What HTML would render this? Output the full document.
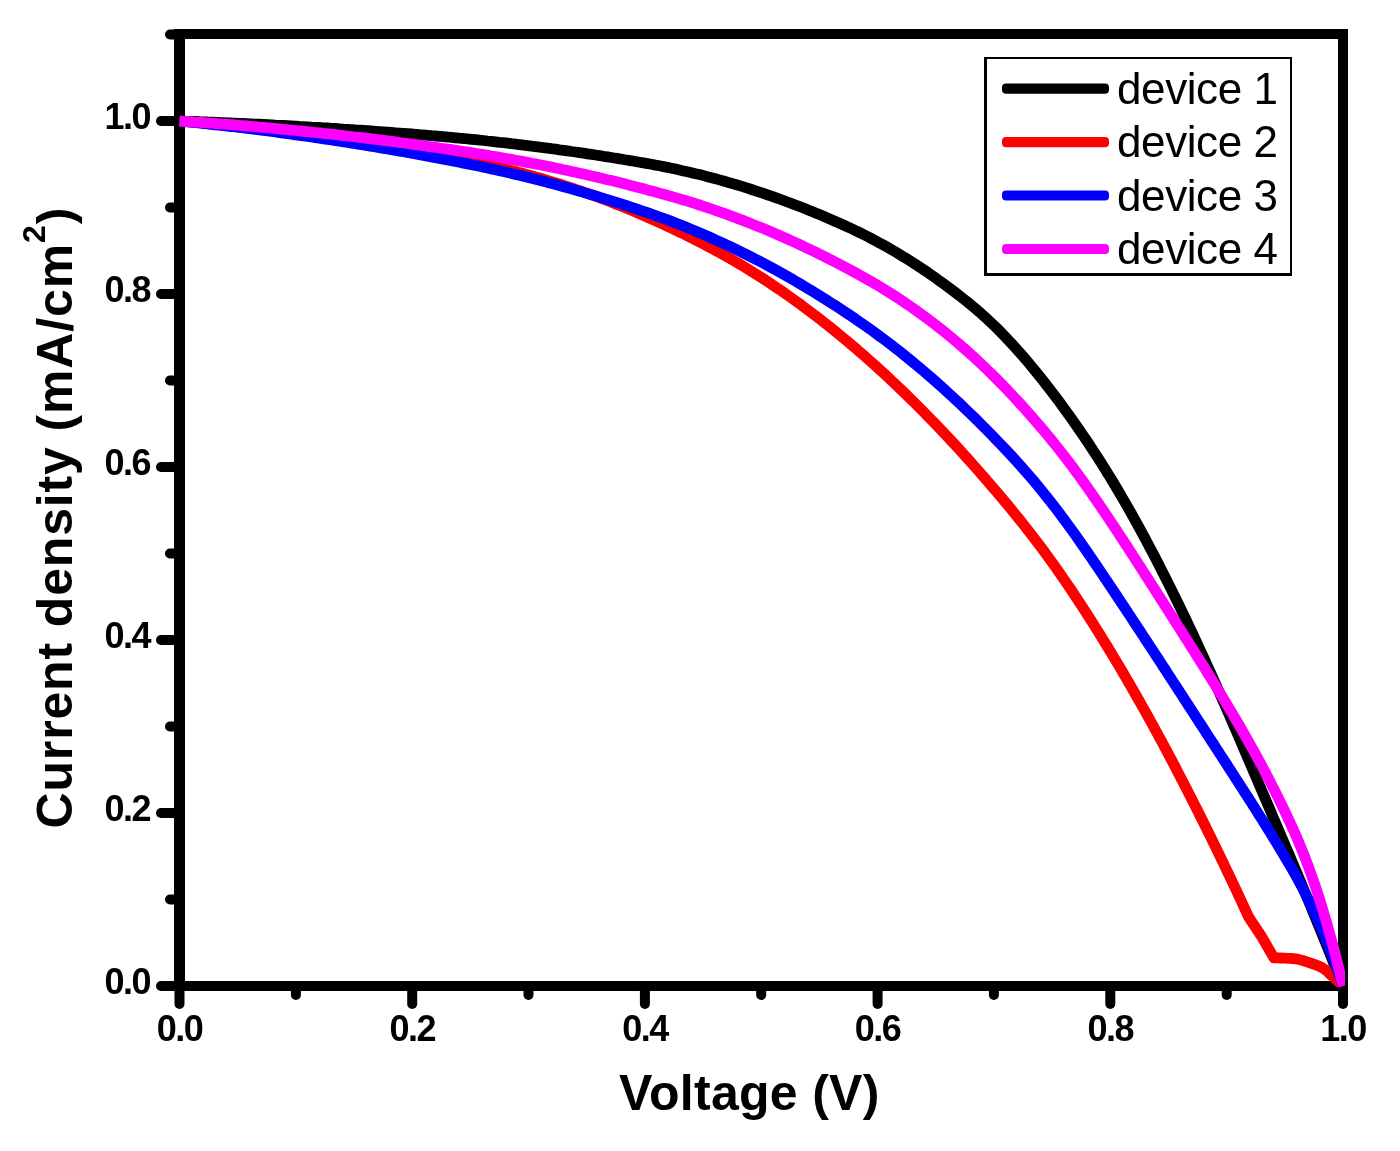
<!DOCTYPE html>
<html lang="en"><head><meta charset="utf-8"><title>J-V curves</title>
<style>
html,body{margin:0;padding:0;background:#fff;}
body{width:1400px;height:1151px;overflow:hidden;}
svg{display:block;}
text{font-family:"Liberation Sans",sans-serif;fill:#000;}
.tk{font-size:36px;font-weight:bold;letter-spacing:-1.5px;}
.ax{font-size:50px;font-weight:bold;}
.ay{letter-spacing:0.85px;}
.axx{letter-spacing:0.3px;}
.lg{font-size:44px;letter-spacing:-0.4px;}
</style></head><body>
<svg width="1400" height="1151" viewBox="0 0 1400 1151">
<rect x="0" y="0" width="1400" height="1151" fill="#ffffff"/>
<defs><clipPath id="plot"><rect x="179" y="34.0" width="1166" height="953.0"/></clipPath></defs>
<g stroke="#000" stroke-width="10" stroke-linecap="butt" fill="none" shape-rendering="crispEdges">
<rect x="174" y="29.0" width="11" height="962.0" fill="#000" stroke="none"/>
<line x1="1343.0" y1="29.0" x2="1343.0" y2="991.0"/>
<line x1="174.5" y1="34.0" x2="1348.0" y2="34.0"/>
<line x1="174.5" y1="986.0" x2="1348.0" y2="986.0"/>
</g>
<g stroke="#000" stroke-width="10" stroke-linecap="round" fill="none">
<line x1="179.5" y1="986.0" x2="161" y2="986.0"/>
<line x1="179.5" y1="899.5" x2="170" y2="899.5"/>
<line x1="179.5" y1="813.0" x2="161" y2="813.0"/>
<line x1="179.5" y1="726.5" x2="170" y2="726.5"/>
<line x1="179.5" y1="640.0" x2="161" y2="640.0"/>
<line x1="179.5" y1="553.5" x2="170" y2="553.5"/>
<line x1="179.5" y1="467.0" x2="161" y2="467.0"/>
<line x1="179.5" y1="380.5" x2="170" y2="380.5"/>
<line x1="179.5" y1="294.0" x2="161" y2="294.0"/>
<line x1="179.5" y1="207.5" x2="170" y2="207.5"/>
<line x1="179.5" y1="121.0" x2="161" y2="121.0"/>
<line x1="179.5" y1="34.5" x2="170" y2="34.5"/>
<line x1="179.5" y1="986.0" x2="179.5" y2="1004"/>
<line x1="295.9" y1="986.0" x2="295.9" y2="995"/>
<line x1="412.2" y1="986.0" x2="412.2" y2="1004"/>
<line x1="528.5" y1="986.0" x2="528.5" y2="995"/>
<line x1="644.9" y1="986.0" x2="644.9" y2="1004"/>
<line x1="761.2" y1="986.0" x2="761.2" y2="995"/>
<line x1="877.6" y1="986.0" x2="877.6" y2="1004"/>
<line x1="993.9" y1="986.0" x2="993.9" y2="995"/>
<line x1="1110.3" y1="986.0" x2="1110.3" y2="1004"/>
<line x1="1226.7" y1="986.0" x2="1226.7" y2="995"/>
<line x1="1343.0" y1="986.0" x2="1343.0" y2="1004"/>
</g>
<g clip-path="url(#plot)" fill="none" stroke-width="10.8" stroke-linejoin="round" stroke-linecap="butt">
<path d="M179.5,121.0 L183.5,121.1 L187.5,121.3 L191.5,121.4 L195.5,121.5 L199.5,121.7 L203.5,121.8 L207.5,122.0 L211.5,122.1 L215.5,122.3 L219.5,122.5 L223.5,122.6 L227.5,122.8 L231.5,123.0 L235.5,123.1 L239.5,123.3 L243.5,123.5 L247.5,123.7 L251.5,123.9 L255.5,124.1 L259.5,124.2 L263.5,124.4 L267.5,124.6 L271.5,124.8 L275.5,125.1 L279.5,125.3 L283.5,125.5 L287.5,125.7 L291.5,125.9 L295.5,126.1 L299.5,126.4 L303.5,126.6 L307.5,126.8 L311.5,127.1 L315.5,127.3 L319.5,127.5 L323.5,127.8 L327.5,128.0 L331.5,128.3 L335.5,128.5 L339.5,128.8 L343.5,129.1 L347.5,129.3 L351.5,129.6 L355.5,129.9 L359.5,130.1 L363.5,130.4 L367.5,130.7 L371.5,131.0 L375.5,131.3 L379.5,131.6 L383.5,131.9 L387.5,132.2 L391.5,132.5 L395.5,132.8 L399.5,133.1 L403.5,133.4 L407.5,133.7 L411.5,134.0 L415.5,134.3 L419.5,134.7 L423.5,135.0 L427.5,135.3 L431.5,135.7 L435.5,136.0 L439.5,136.3 L443.5,136.7 L447.5,137.0 L451.5,137.4 L455.5,137.8 L459.5,138.2 L463.5,138.5 L467.5,138.9 L471.5,139.3 L475.5,139.7 L479.5,140.1 L483.5,140.5 L487.5,141.0 L491.5,141.4 L495.5,141.8 L499.5,142.3 L503.5,142.7 L507.5,143.2 L511.5,143.7 L515.5,144.1 L519.5,144.6 L523.5,145.1 L527.5,145.6 L531.5,146.1 L535.5,146.6 L539.5,147.1 L543.5,147.6 L547.5,148.1 L551.5,148.7 L555.5,149.2 L559.5,149.8 L563.5,150.3 L567.5,150.9 L571.5,151.5 L575.5,152.0 L579.5,152.6 L583.5,153.2 L587.5,153.8 L591.5,154.4 L595.5,155.0 L599.5,155.6 L603.5,156.3 L607.5,156.9 L611.5,157.5 L615.5,158.2 L619.5,158.8 L623.5,159.5 L627.5,160.2 L631.5,160.8 L635.5,161.5 L639.5,162.2 L643.5,162.9 L647.5,163.6 L651.5,164.3 L655.5,165.1 L659.5,165.8 L663.5,166.6 L667.5,167.4 L671.5,168.2 L675.5,169.1 L679.5,170.0 L683.5,170.9 L687.5,171.8 L691.5,172.7 L695.5,173.7 L699.5,174.6 L703.5,175.6 L707.5,176.7 L711.5,177.7 L715.5,178.8 L719.5,179.9 L723.5,181.0 L727.5,182.2 L731.5,183.3 L735.5,184.5 L739.5,185.7 L743.5,186.9 L747.5,188.2 L751.5,189.5 L755.5,190.8 L759.5,192.1 L763.5,193.4 L767.5,194.8 L771.5,196.2 L775.5,197.6 L779.5,199.0 L783.5,200.5 L787.5,202.0 L791.5,203.5 L795.5,205.0 L799.5,206.5 L803.5,208.1 L807.5,209.7 L811.5,211.3 L815.5,213.0 L819.5,214.6 L823.5,216.3 L827.5,218.0 L831.5,219.7 L835.5,221.5 L839.5,223.2 L843.5,225.0 L847.5,226.9 L851.5,228.7 L855.5,230.6 L859.5,232.5 L863.5,234.5 L867.5,236.5 L871.5,238.6 L875.5,240.7 L879.5,242.9 L883.5,245.1 L887.5,247.3 L891.5,249.6 L895.5,251.9 L899.5,254.3 L903.5,256.8 L907.5,259.2 L911.5,261.8 L915.5,264.3 L919.5,267.0 L923.5,269.6 L927.5,272.3 L931.5,275.1 L935.5,277.9 L939.5,280.8 L943.5,283.7 L947.5,286.6 L951.5,289.6 L955.5,292.6 L959.5,295.7 L963.5,298.9 L967.5,302.0 L971.5,305.3 L975.5,308.7 L979.5,312.1 L983.5,315.7 L987.5,319.3 L991.5,323.1 L995.5,326.9 L999.5,330.9 L1003.5,335.0 L1007.5,339.2 L1011.5,343.5 L1015.5,347.9 L1019.5,352.4 L1023.5,356.9 L1027.5,361.6 L1031.5,366.4 L1035.5,371.2 L1039.5,376.2 L1043.5,381.2 L1047.5,386.3 L1051.5,391.5 L1055.5,396.8 L1059.5,402.1 L1063.5,407.6 L1067.5,413.1 L1071.5,418.7 L1075.5,424.4 L1079.5,430.1 L1083.5,436.0 L1087.5,441.9 L1091.5,447.9 L1095.5,454.1 L1099.5,460.3 L1100.0,461.1 L1101.5,463.4 L1103.0,465.8 L1104.5,468.2 L1106.0,470.6 L1107.5,473.1 L1109.0,475.5 L1110.5,477.9 L1112.0,480.4 L1113.5,482.9 L1115.0,485.4 L1116.5,487.9 L1118.0,490.4 L1119.5,493.0 L1121.0,495.5 L1122.5,498.1 L1124.0,500.7 L1125.5,503.3 L1127.0,505.9 L1128.5,508.5 L1130.0,511.2 L1131.5,513.8 L1133.0,516.5 L1134.5,519.2 L1136.0,521.9 L1137.5,524.6 L1139.0,527.4 L1140.5,530.1 L1142.0,532.9 L1143.5,535.6 L1145.0,538.4 L1146.5,541.2 L1148.0,544.0 L1149.5,546.9 L1151.0,549.7 L1152.5,552.6 L1154.0,555.4 L1155.5,558.3 L1157.0,561.2 L1158.5,564.1 L1160.0,567.1 L1161.5,570.0 L1163.0,572.9 L1164.5,575.9 L1166.0,578.9 L1167.5,581.9 L1169.0,584.9 L1170.5,587.9 L1172.0,590.9 L1173.5,594.0 L1175.0,597.0 L1176.5,600.1 L1178.0,603.2 L1179.5,606.2 L1181.0,609.3 L1182.5,612.5 L1184.0,615.6 L1185.5,618.7 L1187.0,621.9 L1188.5,625.0 L1190.0,628.2 L1191.5,631.4 L1193.0,634.6 L1194.5,637.8 L1196.0,641.0 L1197.5,644.3 L1199.0,647.5 L1200.5,650.8 L1202.0,654.0 L1203.5,657.3 L1205.0,660.6 L1206.5,663.9 L1208.0,667.2 L1209.5,670.5 L1211.0,673.8 L1212.5,677.1 L1214.0,680.5 L1215.5,683.8 L1217.0,687.2 L1218.5,690.6 L1220.0,694.0 L1221.5,697.3 L1223.0,700.7 L1224.5,704.2 L1226.0,707.6 L1227.5,711.0 L1229.0,714.4 L1230.5,717.8 L1232.0,721.3 L1233.5,724.7 L1235.0,728.2 L1236.5,731.7 L1238.0,735.1 L1239.5,738.6 L1241.0,742.1 L1242.5,745.6 L1244.0,749.0 L1245.5,752.5 L1247.0,756.0 L1248.5,759.5 L1250.0,763.0 L1251.5,766.5 L1253.0,770.0 L1254.5,773.5 L1256.0,777.1 L1257.5,780.6 L1259.0,784.1 L1260.5,787.6 L1262.0,791.1 L1263.5,794.6 L1265.0,798.2 L1266.5,801.7 L1268.0,805.2 L1269.5,808.7 L1271.0,812.2 L1272.5,815.8 L1274.0,819.3 L1275.5,822.8 L1277.0,826.3 L1278.5,829.9 L1280.0,833.4 L1281.5,836.9 L1283.0,840.4 L1284.5,843.9 L1286.0,847.5 L1287.5,851.0 L1289.0,854.5 L1290.5,858.0 L1292.0,861.6 L1293.5,865.1 L1295.0,868.6 L1296.5,872.2 L1298.0,875.7 L1299.5,879.3 L1301.0,882.9 L1302.5,886.5 L1304.0,890.1 L1305.5,893.7 L1307.0,897.3 L1308.5,900.9 L1310.0,904.5 L1311.5,908.2 L1313.0,911.8 L1314.5,915.5 L1316.0,919.2 L1317.5,922.9 L1319.0,926.5 L1320.5,930.2 L1322.0,933.9 L1323.5,937.6 L1325.0,941.3 L1326.5,945.1 L1328.0,948.8 L1329.5,952.5 L1331.0,956.2 L1332.5,959.9 L1334.0,963.6 L1335.5,967.4 L1337.0,971.1 L1338.5,974.8 L1340.0,978.5 L1341.5,982.3 L1343.0,986.0" stroke="#000000"/>
<path d="M179.5,121.0 L183.5,121.4 L187.5,121.7 L191.5,122.1 L195.5,122.5 L199.5,122.9 L203.5,123.3 L207.5,123.7 L211.5,124.1 L215.5,124.5 L219.5,124.9 L223.5,125.3 L227.5,125.7 L231.5,126.1 L235.5,126.6 L239.5,127.0 L243.5,127.5 L247.5,127.9 L251.5,128.4 L255.5,128.8 L259.5,129.3 L263.5,129.8 L267.5,130.2 L271.5,130.7 L275.5,131.2 L279.5,131.7 L283.5,132.2 L287.5,132.7 L291.5,133.2 L295.5,133.7 L299.5,134.2 L303.5,134.8 L307.5,135.3 L311.5,135.8 L315.5,136.4 L319.5,136.9 L323.5,137.5 L327.5,138.0 L331.5,138.6 L335.5,139.2 L339.5,139.7 L343.5,140.3 L347.5,140.9 L351.5,141.5 L355.5,142.1 L359.5,142.7 L363.5,143.3 L367.5,143.9 L371.5,144.5 L375.5,145.2 L379.5,145.8 L383.5,146.4 L387.5,147.1 L391.5,147.7 L395.5,148.3 L399.5,149.0 L403.5,149.7 L407.5,150.3 L411.5,151.0 L415.5,151.7 L419.5,152.4 L423.5,153.0 L427.5,153.7 L431.5,154.4 L435.5,155.1 L439.5,155.9 L443.5,156.6 L447.5,157.3 L451.5,158.0 L455.5,158.7 L459.5,159.5 L463.5,160.2 L467.5,161.0 L471.5,161.7 L475.5,162.5 L479.5,163.3 L483.5,164.1 L487.5,165.0 L491.5,165.9 L495.5,166.7 L499.5,167.7 L503.5,168.6 L507.5,169.5 L511.5,170.5 L515.5,171.5 L519.5,172.6 L523.5,173.6 L527.5,174.7 L531.5,175.8 L535.5,176.9 L539.5,178.0 L543.5,179.2 L547.5,180.4 L551.5,181.6 L555.5,182.8 L559.5,184.0 L563.5,185.3 L567.5,186.6 L571.5,187.9 L575.5,189.3 L579.5,190.6 L583.5,192.0 L587.5,193.4 L591.5,194.8 L595.5,196.3 L599.5,197.8 L603.5,199.3 L607.5,200.8 L611.5,202.3 L615.5,203.9 L619.5,205.5 L623.5,207.1 L627.5,208.7 L631.5,210.4 L635.5,212.1 L639.5,213.8 L643.5,215.5 L647.5,217.2 L651.5,219.0 L655.5,220.8 L659.5,222.6 L663.5,224.4 L667.5,226.3 L671.5,228.2 L675.5,230.1 L679.5,232.0 L683.5,233.9 L687.5,235.9 L691.5,237.9 L695.5,239.9 L699.5,242.0 L703.5,244.0 L707.5,246.1 L711.5,248.2 L715.5,250.4 L719.5,252.5 L723.5,254.8 L727.5,257.0 L731.5,259.3 L735.5,261.6 L739.5,264.0 L743.5,266.4 L747.5,268.8 L751.5,271.3 L755.5,273.8 L759.5,276.3 L763.5,278.9 L767.5,281.5 L771.5,284.2 L775.5,286.9 L779.5,289.6 L783.5,292.3 L787.5,295.1 L791.5,298.0 L795.5,300.8 L799.5,303.7 L803.5,306.7 L807.5,309.7 L811.5,312.7 L815.5,315.7 L819.5,318.8 L823.5,321.9 L827.5,325.1 L831.5,328.3 L835.5,331.5 L839.5,334.8 L843.5,338.1 L847.5,341.4 L851.5,344.8 L855.5,348.2 L859.5,351.7 L863.5,355.1 L867.5,358.7 L871.5,362.2 L875.5,365.8 L879.5,369.5 L883.5,373.1 L887.5,376.8 L891.5,380.6 L895.5,384.3 L899.5,388.2 L903.5,392.0 L907.5,395.9 L911.5,399.8 L915.5,403.8 L919.5,407.8 L923.5,411.8 L927.5,415.9 L931.5,420.0 L935.5,424.1 L939.5,428.3 L943.5,432.5 L947.5,436.7 L951.5,441.0 L955.5,445.3 L959.5,449.7 L963.5,454.1 L967.5,458.5 L971.5,463.0 L975.5,467.5 L979.5,472.0 L983.5,476.6 L987.5,481.2 L991.5,485.9 L995.5,490.5 L999.5,495.3 L1003.5,500.0 L1007.5,504.8 L1011.5,509.7 L1015.5,514.6 L1019.5,519.5 L1023.5,524.5 L1027.5,529.6 L1031.5,534.8 L1035.5,540.0 L1039.5,545.3 L1043.5,550.6 L1047.5,556.1 L1051.5,561.6 L1055.5,567.2 L1059.5,572.9 L1063.5,578.7 L1067.5,584.5 L1071.5,590.4 L1075.5,596.4 L1079.5,602.5 L1083.5,608.6 L1087.5,614.8 L1091.5,621.1 L1095.5,627.5 L1099.5,633.9 L1100.0,634.7 L1101.5,637.1 L1103.0,639.5 L1104.5,642.0 L1106.0,644.4 L1107.5,646.9 L1109.0,649.3 L1110.5,651.8 L1112.0,654.3 L1113.5,656.8 L1115.0,659.3 L1116.5,661.8 L1118.0,664.3 L1119.5,666.8 L1121.0,669.4 L1122.5,671.9 L1124.0,674.5 L1125.5,677.0 L1127.0,679.6 L1128.5,682.2 L1130.0,684.8 L1131.5,687.4 L1133.0,690.0 L1134.5,692.6 L1136.0,695.2 L1137.5,697.9 L1139.0,700.5 L1140.5,703.1 L1142.0,705.8 L1143.5,708.5 L1145.0,711.2 L1146.5,713.9 L1148.0,716.5 L1149.5,719.3 L1151.0,722.0 L1152.5,724.7 L1154.0,727.4 L1155.5,730.2 L1157.0,732.9 L1158.5,735.7 L1160.0,738.5 L1161.5,741.2 L1163.0,744.0 L1164.5,746.8 L1166.0,749.6 L1167.5,752.4 L1169.0,755.3 L1170.5,758.1 L1172.0,760.9 L1173.5,763.8 L1175.0,766.6 L1176.5,769.5 L1178.0,772.4 L1179.5,775.3 L1181.0,778.2 L1182.5,781.1 L1184.0,784.0 L1185.5,786.9 L1187.0,789.8 L1188.5,792.8 L1190.0,795.7 L1191.5,798.6 L1193.0,801.6 L1194.5,804.6 L1196.0,807.5 L1197.5,810.5 L1199.0,813.5 L1200.5,816.5 L1202.0,819.5 L1203.5,822.5 L1205.0,825.5 L1206.5,828.6 L1208.0,831.6 L1209.5,834.6 L1211.0,837.7 L1212.5,840.8 L1214.0,843.8 L1215.5,846.9 L1217.0,850.0 L1218.5,853.1 L1220.0,856.2 L1221.5,859.3 L1223.0,862.4 L1224.5,865.5 L1226.0,868.7 L1227.5,871.8 L1229.0,875.0 L1230.5,878.1 L1232.0,881.3 L1233.5,884.5 L1235.0,887.6 L1236.5,890.8 L1238.0,894.1 L1239.5,897.3 L1241.0,900.5 L1242.5,903.7 L1244.0,907.0 L1245.5,910.2 L1247.0,913.5 L1248.5,916.8 L1248.6,917.0 L1261.9,937.1 L1273.9,957.9 L1275.4,957.9 L1276.9,957.9 L1278.4,957.9 L1279.9,958.0 L1281.4,958.0 L1282.9,958.1 L1284.4,958.1 L1285.9,958.2 L1287.4,958.3 L1288.9,958.4 L1290.4,958.4 L1291.9,958.5 L1293.4,958.6 L1294.9,958.8 L1296.4,958.9 L1297.9,959.2 L1299.4,959.6 L1300.9,960.0 L1302.4,960.4 L1303.9,960.9 L1305.4,961.4 L1306.9,961.9 L1308.4,962.3 L1309.9,962.8 L1311.4,963.3 L1312.9,963.8 L1314.4,964.3 L1315.9,964.9 L1317.4,965.5 L1318.9,966.1 L1320.4,966.8 L1321.9,967.6 L1323.4,968.4 L1324.9,969.4 L1326.4,970.7 L1327.9,972.0 L1329.4,973.5 L1330.9,974.9 L1332.4,976.2 L1333.9,977.5 L1335.4,978.9 L1336.9,980.3 L1338.4,981.6 L1339.9,983.0 L1341.4,984.5 L1342.9,985.9 L1343.0,986.0" stroke="#ff0000"/>
<path d="M179.5,121.0 L183.5,121.4 L187.5,121.8 L191.5,122.2 L195.5,122.6 L199.5,123.0 L203.5,123.5 L207.5,123.9 L211.5,124.3 L215.5,124.8 L219.5,125.2 L223.5,125.7 L227.5,126.1 L231.5,126.6 L235.5,127.0 L239.5,127.5 L243.5,128.0 L247.5,128.5 L251.5,129.0 L255.5,129.5 L259.5,130.0 L263.5,130.5 L267.5,131.0 L271.5,131.5 L275.5,132.0 L279.5,132.6 L283.5,133.1 L287.5,133.7 L291.5,134.2 L295.5,134.8 L299.5,135.3 L303.5,135.9 L307.5,136.4 L311.5,137.0 L315.5,137.6 L319.5,138.2 L323.5,138.8 L327.5,139.4 L331.5,140.0 L335.5,140.6 L339.5,141.2 L343.5,141.8 L347.5,142.5 L351.5,143.1 L355.5,143.7 L359.5,144.4 L363.5,145.0 L367.5,145.7 L371.5,146.3 L375.5,147.0 L379.5,147.7 L383.5,148.4 L387.5,149.0 L391.5,149.7 L395.5,150.4 L399.5,151.1 L403.5,151.8 L407.5,152.5 L411.5,153.3 L415.5,154.0 L419.5,154.7 L423.5,155.4 L427.5,156.2 L431.5,156.9 L435.5,157.7 L439.5,158.4 L443.5,159.2 L447.5,160.0 L451.5,160.7 L455.5,161.5 L459.5,162.3 L463.5,163.1 L467.5,163.9 L471.5,164.7 L475.5,165.5 L479.5,166.3 L483.5,167.2 L487.5,168.0 L491.5,168.9 L495.5,169.8 L499.5,170.7 L503.5,171.6 L507.5,172.5 L511.5,173.4 L515.5,174.4 L519.5,175.3 L523.5,176.3 L527.5,177.3 L531.5,178.3 L535.5,179.3 L539.5,180.3 L543.5,181.3 L547.5,182.4 L551.5,183.4 L555.5,184.5 L559.5,185.6 L563.5,186.7 L567.5,187.8 L571.5,188.9 L575.5,190.1 L579.5,191.2 L583.5,192.4 L587.5,193.6 L591.5,194.7 L595.5,195.9 L599.5,197.2 L603.5,198.4 L607.5,199.6 L611.5,200.9 L615.5,202.1 L619.5,203.4 L623.5,204.7 L627.5,206.0 L631.5,207.3 L635.5,208.7 L639.5,210.0 L643.5,211.4 L647.5,212.7 L651.5,214.1 L655.5,215.5 L659.5,217.0 L663.5,218.4 L667.5,219.9 L671.5,221.4 L675.5,223.0 L679.5,224.5 L683.5,226.1 L687.5,227.7 L691.5,229.4 L695.5,231.0 L699.5,232.7 L703.5,234.4 L707.5,236.2 L711.5,238.0 L715.5,239.8 L719.5,241.6 L723.5,243.4 L727.5,245.3 L731.5,247.2 L735.5,249.1 L739.5,251.1 L743.5,253.1 L747.5,255.1 L751.5,257.1 L755.5,259.2 L759.5,261.2 L763.5,263.3 L767.5,265.5 L771.5,267.6 L775.5,269.8 L779.5,272.0 L783.5,274.3 L787.5,276.5 L791.5,278.8 L795.5,281.1 L799.5,283.5 L803.5,285.9 L807.5,288.3 L811.5,290.7 L815.5,293.1 L819.5,295.6 L823.5,298.1 L827.5,300.6 L831.5,303.2 L835.5,305.7 L839.5,308.3 L843.5,311.0 L847.5,313.6 L851.5,316.3 L855.5,319.0 L859.5,321.8 L863.5,324.5 L867.5,327.4 L871.5,330.2 L875.5,333.1 L879.5,336.1 L883.5,339.0 L887.5,342.0 L891.5,345.1 L895.5,348.2 L899.5,351.3 L903.5,354.5 L907.5,357.7 L911.5,361.0 L915.5,364.3 L919.5,367.6 L923.5,371.0 L927.5,374.5 L931.5,377.9 L935.5,381.4 L939.5,385.0 L943.5,388.6 L947.5,392.2 L951.5,395.9 L955.5,399.6 L959.5,403.3 L963.5,407.1 L967.5,411.0 L971.5,414.8 L975.5,418.7 L979.5,422.7 L983.5,426.7 L987.5,430.7 L991.5,434.8 L995.5,438.9 L999.5,443.1 L1003.5,447.3 L1007.5,451.5 L1011.5,455.8 L1015.5,460.2 L1019.5,464.6 L1023.5,469.1 L1027.5,473.7 L1031.5,478.3 L1035.5,483.0 L1039.5,487.9 L1043.5,492.8 L1047.5,497.8 L1051.5,502.8 L1055.5,508.0 L1059.5,513.3 L1063.5,518.7 L1067.5,524.1 L1071.5,529.6 L1075.5,535.2 L1079.5,540.9 L1083.5,546.6 L1087.5,552.4 L1091.5,558.2 L1095.5,564.1 L1099.5,570.0 L1100.0,570.8 L1101.5,573.0 L1103.0,575.2 L1104.5,577.5 L1106.0,579.7 L1107.5,581.9 L1109.0,584.2 L1110.5,586.4 L1112.0,588.7 L1113.5,590.9 L1115.0,593.2 L1116.5,595.4 L1118.0,597.7 L1119.5,600.0 L1121.0,602.2 L1122.5,604.5 L1124.0,606.8 L1125.5,609.0 L1127.0,611.3 L1128.5,613.6 L1130.0,615.8 L1131.5,618.1 L1133.0,620.4 L1134.5,622.7 L1136.0,625.0 L1137.5,627.2 L1139.0,629.5 L1140.5,631.8 L1142.0,634.1 L1143.5,636.4 L1145.0,638.7 L1146.5,641.0 L1148.0,643.3 L1149.5,645.6 L1151.0,647.8 L1152.5,650.1 L1154.0,652.4 L1155.5,654.7 L1157.0,657.0 L1158.5,659.3 L1160.0,661.6 L1161.5,663.9 L1163.0,666.2 L1164.5,668.5 L1166.0,670.8 L1167.5,673.2 L1169.0,675.5 L1170.5,677.8 L1172.0,680.1 L1173.5,682.4 L1175.0,684.7 L1176.5,687.0 L1178.0,689.3 L1179.5,691.6 L1181.0,693.9 L1182.5,696.2 L1184.0,698.6 L1185.5,700.9 L1187.0,703.2 L1188.5,705.5 L1190.0,707.8 L1191.5,710.1 L1193.0,712.4 L1194.5,714.7 L1196.0,717.1 L1197.5,719.4 L1199.0,721.7 L1200.5,724.0 L1202.0,726.3 L1203.5,728.6 L1205.0,730.9 L1206.5,733.3 L1208.0,735.6 L1209.5,737.9 L1211.0,740.2 L1212.5,742.5 L1214.0,744.8 L1215.5,747.1 L1217.0,749.5 L1218.5,751.8 L1220.0,754.1 L1221.5,756.4 L1223.0,758.7 L1224.5,761.0 L1226.0,763.3 L1227.5,765.7 L1229.0,768.0 L1230.5,770.3 L1232.0,772.6 L1233.5,774.9 L1235.0,777.3 L1236.5,779.6 L1238.0,781.9 L1239.5,784.2 L1241.0,786.6 L1242.5,788.9 L1244.0,791.2 L1245.5,793.6 L1247.0,795.9 L1248.5,798.2 L1250.0,800.6 L1251.5,802.9 L1253.0,805.3 L1254.5,807.6 L1256.0,810.0 L1257.5,812.4 L1259.0,814.8 L1260.5,817.1 L1262.0,819.5 L1263.5,821.9 L1265.0,824.3 L1266.5,826.7 L1268.0,829.1 L1269.5,831.5 L1271.0,834.0 L1272.5,836.4 L1274.0,838.8 L1275.5,841.3 L1277.0,843.7 L1278.5,846.2 L1280.0,848.7 L1281.5,851.2 L1283.0,853.7 L1284.5,856.2 L1286.0,858.7 L1287.5,861.2 L1289.0,863.8 L1290.5,866.3 L1292.0,868.9 L1293.5,871.5 L1295.0,874.2 L1296.5,876.9 L1298.0,879.6 L1299.5,882.4 L1301.0,885.2 L1302.5,888.0 L1304.0,890.9 L1305.5,893.9 L1307.0,896.9 L1308.5,899.9 L1310.0,903.0 L1311.5,906.2 L1313.0,909.4 L1314.5,912.7 L1316.0,916.0 L1317.5,919.4 L1319.0,922.9 L1320.5,926.4 L1322.0,929.9 L1323.5,933.5 L1325.0,937.2 L1326.5,941.0 L1328.0,944.8 L1329.5,948.6 L1331.0,952.6 L1332.5,956.5 L1334.0,960.6 L1335.5,964.7 L1337.0,968.8 L1338.5,973.0 L1340.0,977.3 L1341.5,981.6 L1343.0,986.0" stroke="#0000ff"/>
<path d="M179.5,121.0 L183.5,121.3 L187.5,121.5 L191.5,121.8 L195.5,122.1 L199.5,122.3 L203.5,122.6 L207.5,122.9 L211.5,123.2 L215.5,123.5 L219.5,123.8 L223.5,124.1 L227.5,124.4 L231.5,124.7 L235.5,125.0 L239.5,125.4 L243.5,125.7 L247.5,126.0 L251.5,126.4 L255.5,126.7 L259.5,127.1 L263.5,127.4 L267.5,127.8 L271.5,128.2 L275.5,128.5 L279.5,128.9 L283.5,129.3 L287.5,129.7 L291.5,130.1 L295.5,130.5 L299.5,130.9 L303.5,131.3 L307.5,131.7 L311.5,132.1 L315.5,132.5 L319.5,132.9 L323.5,133.4 L327.5,133.8 L331.5,134.2 L335.5,134.7 L339.5,135.1 L343.5,135.6 L347.5,136.0 L351.5,136.5 L355.5,137.0 L359.5,137.4 L363.5,137.9 L367.5,138.4 L371.5,138.9 L375.5,139.4 L379.5,139.9 L383.5,140.4 L387.5,140.9 L391.5,141.4 L395.5,141.9 L399.5,142.5 L403.5,143.0 L407.5,143.5 L411.5,144.1 L415.5,144.6 L419.5,145.1 L423.5,145.7 L427.5,146.3 L431.5,146.8 L435.5,147.4 L439.5,148.0 L443.5,148.5 L447.5,149.1 L451.5,149.7 L455.5,150.3 L459.5,150.9 L463.5,151.5 L467.5,152.1 L471.5,152.7 L475.5,153.4 L479.5,154.0 L483.5,154.6 L487.5,155.3 L491.5,156.0 L495.5,156.6 L499.5,157.3 L503.5,158.0 L507.5,158.7 L511.5,159.4 L515.5,160.2 L519.5,160.9 L523.5,161.6 L527.5,162.4 L531.5,163.2 L535.5,163.9 L539.5,164.7 L543.5,165.5 L547.5,166.3 L551.5,167.1 L555.5,168.0 L559.5,168.8 L563.5,169.7 L567.5,170.5 L571.5,171.4 L575.5,172.3 L579.5,173.2 L583.5,174.1 L587.5,175.0 L591.5,175.9 L595.5,176.8 L599.5,177.8 L603.5,178.7 L607.5,179.7 L611.5,180.6 L615.5,181.6 L619.5,182.6 L623.5,183.6 L627.5,184.6 L631.5,185.7 L635.5,186.7 L639.5,187.7 L643.5,188.8 L647.5,189.9 L651.5,190.9 L655.5,192.0 L659.5,193.1 L663.5,194.2 L667.5,195.3 L671.5,196.5 L675.5,197.6 L679.5,198.8 L683.5,200.0 L687.5,201.2 L691.5,202.4 L695.5,203.7 L699.5,205.0 L703.5,206.3 L707.5,207.6 L711.5,209.0 L715.5,210.4 L719.5,211.8 L723.5,213.2 L727.5,214.6 L731.5,216.1 L735.5,217.6 L739.5,219.1 L743.5,220.6 L747.5,222.2 L751.5,223.8 L755.5,225.4 L759.5,227.0 L763.5,228.6 L767.5,230.3 L771.5,232.0 L775.5,233.7 L779.5,235.5 L783.5,237.2 L787.5,239.0 L791.5,240.8 L795.5,242.6 L799.5,244.5 L803.5,246.4 L807.5,248.3 L811.5,250.2 L815.5,252.1 L819.5,254.1 L823.5,256.1 L827.5,258.1 L831.5,260.1 L835.5,262.2 L839.5,264.3 L843.5,266.4 L847.5,268.5 L851.5,270.6 L855.5,272.8 L859.5,275.0 L863.5,277.2 L867.5,279.5 L871.5,281.7 L875.5,284.1 L879.5,286.4 L883.5,288.8 L887.5,291.3 L891.5,293.8 L895.5,296.4 L899.5,299.0 L903.5,301.7 L907.5,304.4 L911.5,307.2 L915.5,310.0 L919.5,312.9 L923.5,315.8 L927.5,318.7 L931.5,321.8 L935.5,324.8 L939.5,328.0 L943.5,331.1 L947.5,334.4 L951.5,337.6 L955.5,341.0 L959.5,344.4 L963.5,347.9 L967.5,351.4 L971.5,355.0 L975.5,358.6 L979.5,362.4 L983.5,366.1 L987.5,370.0 L991.5,373.9 L995.5,377.9 L999.5,381.9 L1003.5,386.0 L1007.5,390.1 L1011.5,394.4 L1015.5,398.6 L1019.5,403.0 L1023.5,407.4 L1027.5,411.8 L1031.5,416.4 L1035.5,421.0 L1039.5,425.6 L1043.5,430.3 L1047.5,435.1 L1051.5,440.0 L1055.5,445.0 L1059.5,450.0 L1063.5,455.1 L1067.5,460.3 L1071.5,465.6 L1075.5,471.0 L1079.5,476.4 L1083.5,482.0 L1087.5,487.6 L1091.5,493.3 L1095.5,499.1 L1099.5,504.9 L1100.0,505.7 L1101.5,507.9 L1103.0,510.1 L1104.5,512.3 L1106.0,514.5 L1107.5,516.8 L1109.0,519.0 L1110.5,521.3 L1112.0,523.5 L1113.5,525.8 L1115.0,528.0 L1116.5,530.3 L1118.0,532.6 L1119.5,534.9 L1121.0,537.2 L1122.5,539.4 L1124.0,541.7 L1125.5,544.0 L1127.0,546.3 L1128.5,548.7 L1130.0,551.0 L1131.5,553.3 L1133.0,555.6 L1134.5,557.9 L1136.0,560.2 L1137.5,562.6 L1139.0,564.9 L1140.5,567.2 L1142.0,569.6 L1143.5,571.9 L1145.0,574.2 L1146.5,576.6 L1148.0,578.9 L1149.5,581.3 L1151.0,583.6 L1152.5,586.0 L1154.0,588.3 L1155.5,590.7 L1157.0,593.0 L1158.5,595.4 L1160.0,597.7 L1161.5,600.1 L1163.0,602.4 L1164.5,604.8 L1166.0,607.1 L1167.5,609.5 L1169.0,611.8 L1170.5,614.2 L1172.0,616.5 L1173.5,618.9 L1175.0,621.2 L1176.5,623.6 L1178.0,626.0 L1179.5,628.3 L1181.0,630.7 L1182.5,633.0 L1184.0,635.4 L1185.5,637.8 L1187.0,640.1 L1188.5,642.5 L1190.0,644.9 L1191.5,647.2 L1193.0,649.6 L1194.5,652.0 L1196.0,654.4 L1197.5,656.8 L1199.0,659.2 L1200.5,661.5 L1202.0,663.9 L1203.5,666.3 L1205.0,668.7 L1206.5,671.1 L1208.0,673.6 L1209.5,676.0 L1211.0,678.4 L1212.5,680.8 L1214.0,683.3 L1215.5,685.7 L1217.0,688.1 L1218.5,690.6 L1220.0,693.1 L1221.5,695.5 L1223.0,698.0 L1224.5,700.5 L1226.0,703.0 L1227.5,705.5 L1229.0,708.0 L1230.5,710.5 L1232.0,713.0 L1233.5,715.6 L1235.0,718.1 L1236.5,720.7 L1238.0,723.2 L1239.5,725.8 L1241.0,728.4 L1242.5,731.0 L1244.0,733.6 L1245.5,736.3 L1247.0,738.9 L1248.5,741.6 L1250.0,744.3 L1251.5,747.0 L1253.0,749.7 L1254.5,752.4 L1256.0,755.1 L1257.5,757.9 L1259.0,760.6 L1260.5,763.4 L1262.0,766.2 L1263.5,769.1 L1265.0,771.9 L1266.5,774.8 L1268.0,777.6 L1269.5,780.5 L1271.0,783.5 L1272.5,786.4 L1274.0,789.4 L1275.5,792.3 L1277.0,795.4 L1278.5,798.4 L1280.0,801.4 L1281.5,804.5 L1283.0,807.6 L1284.5,810.7 L1286.0,813.9 L1287.5,817.0 L1289.0,820.3 L1290.5,823.5 L1292.0,826.8 L1293.5,830.1 L1295.0,833.5 L1296.5,836.9 L1298.0,840.4 L1299.5,844.0 L1301.0,847.6 L1302.5,851.3 L1304.0,855.1 L1305.5,858.9 L1307.0,862.9 L1308.5,866.9 L1310.0,871.0 L1311.5,875.2 L1313.0,879.5 L1314.5,883.8 L1316.0,888.3 L1317.5,892.9 L1319.0,897.5 L1320.5,902.3 L1322.0,907.2 L1323.5,912.1 L1325.0,917.2 L1326.5,922.3 L1328.0,927.6 L1329.5,933.0 L1331.0,938.4 L1332.5,944.0 L1334.0,949.7 L1335.5,955.5 L1337.0,961.4 L1338.5,967.4 L1340.0,973.5 L1341.5,979.7 L1343.0,986.0" stroke="#ff00ff"/>
</g>
<text class="tk" x="150" y="994.0" text-anchor="end">0.0</text>
<text class="tk" x="179.5" y="1041" text-anchor="middle">0.0</text>
<text class="tk" x="150" y="821.0" text-anchor="end">0.2</text>
<text class="tk" x="412.2" y="1041" text-anchor="middle">0.2</text>
<text class="tk" x="150" y="648.0" text-anchor="end">0.4</text>
<text class="tk" x="644.9" y="1041" text-anchor="middle">0.4</text>
<text class="tk" x="150" y="475.0" text-anchor="end">0.6</text>
<text class="tk" x="877.6" y="1041" text-anchor="middle">0.6</text>
<text class="tk" x="150" y="302.0" text-anchor="end">0.8</text>
<text class="tk" x="1110.3" y="1041" text-anchor="middle">0.8</text>
<text class="tk" x="150" y="129.0" text-anchor="end">1.0</text>
<text class="tk" x="1343.0" y="1041" text-anchor="middle">1.0</text>
<text class="ax axx" x="619" y="1110">Voltage (V)</text>
<text class="ax ay" transform="translate(72,828.5) rotate(-90)">Current density (mA/cm<tspan font-size="32" dy="-27">2</tspan><tspan dy="27">)</tspan></text>
<rect x="984" y="57" width="308" height="219" fill="#000" shape-rendering="crispEdges"/>
<rect x="987" y="59" width="303" height="214" fill="#fff" shape-rendering="crispEdges"/>
<rect x="1002" y="83.5" width="107" height="10.2" rx="4" ry="4" fill="#000000"/>
<text class="lg" x="1117" y="104.0">device 1</text>
<rect x="1002" y="137.0" width="107" height="10.2" rx="4" ry="4" fill="#ff0000"/>
<text class="lg" x="1117" y="157.3">device 2</text>
<rect x="1002" y="190.4" width="107" height="10.2" rx="4" ry="4" fill="#0000ff"/>
<text class="lg" x="1117" y="210.6">device 3</text>
<rect x="1002" y="243.9" width="107" height="10.2" rx="4" ry="4" fill="#ff00ff"/>
<text class="lg" x="1117" y="263.9">device 4</text>
</svg>
</body></html>
